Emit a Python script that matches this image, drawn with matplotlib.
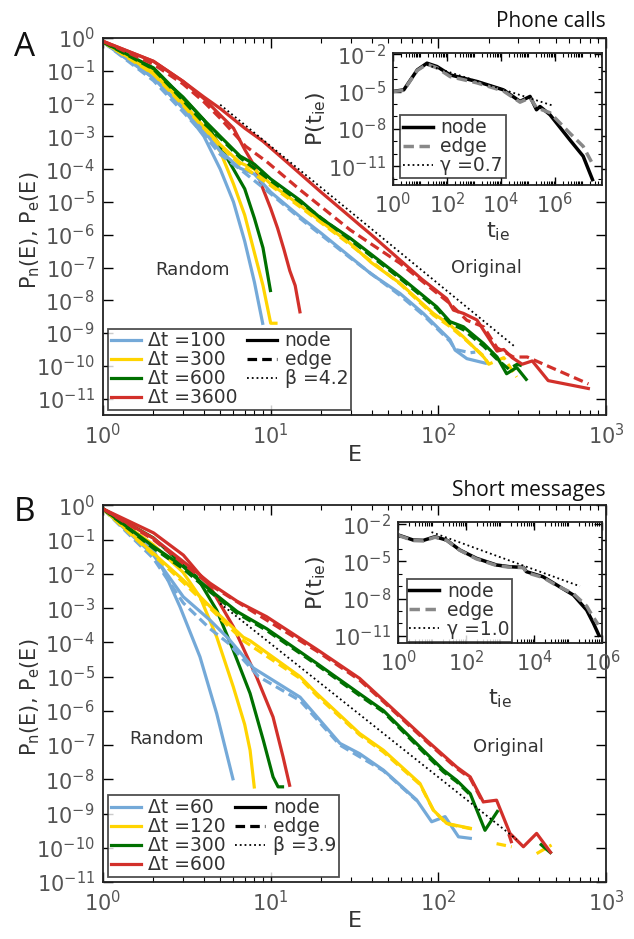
import numpy as np
import matplotlib
matplotlib.use('Agg')
import matplotlib.pyplot as plt
from matplotlib.ticker import FixedLocator, NullLocator, NullFormatter, LogFormatterSciNotation

# all curves stored as log10(E) and -log10(P)
# ---------------- panel A: phone calls ----------------
a_blue_rand_x = [0, 0.301, 0.477, 0.602, 0.699, 0.778, 0.845, 0.903, 0.954]
a_blue_rand_y = [0.12, 1.22, 2.15, 3.0, 4.0, 5.0, 6.2, 7.45, 8.75]
a_yell_rand_x = [0, 0.301, 0.477, 0.602, 0.699, 0.778, 0.845, 0.903, 0.954, 1.0, 1.041]
a_yell_rand_y = [0.12, 1.1, 1.95, 2.75, 3.46, 4.45, 5.4, 6.55, 7.55, 8.7, 8.7]
a_gree_rand_x = [0, 0.301, 0.477, 0.602, 0.699, 0.778, 0.845, 0.903, 0.954, 1.0]
a_gree_rand_y = [0.12, 1.0, 1.8, 2.5, 3.3, 4.0, 4.6, 5.5, 6.4, 7.75]
a_red_rand_x = [0, 0.301, 0.477, 0.602, 0.699, 0.778, 0.845, 0.903, 0.954, 1.0, 1.041, 1.079, 1.114, 1.146, 1.176]
a_red_rand_y = [0.1, 0.71, 1.32, 1.85, 2.35, 2.75, 3.4, 3.9, 4.6, 5.2, 5.8, 6.45, 7.1, 7.55, 8.4]

a_blue_node_x = [0, 0.301, 0.477, 0.602, 0.699, 0.817, 0.903, 1.0, 1.175, 1.3, 1.473, 1.6, 1.771, 1.91, 2.069, 2.1, 2.17, 2.29]
a_blue_node_y = [0.12, 1.22, 2.13, 2.85, 3.45, 3.97, 4.15, 4.7, 5.45, 5.95, 6.67, 7.2, 7.79, 8.4, 9.2, 9.52, 9.78, 9.93]
a_blue_edge_x = [0, 0.301, 0.477, 0.602, 0.699, 0.817, 1.0, 1.175, 1.473, 1.771, 1.91, 2.069, 2.1, 2.19, 2.22]
a_blue_edge_y = [0.12, 1.3, 2.25, 2.95, 3.55, 4.0, 4.75, 5.5, 6.7, 7.85, 8.45, 9.25, 9.5, 9.6, 9.58]
a_yell_node_x = [0, 0.301, 0.477, 0.602, 0.699, 0.817, 0.903, 1.0, 1.175, 1.3, 1.473, 1.6, 1.771, 1.97, 2.069, 2.15, 2.27, 2.30]
a_yell_node_y = [0.12, 1.05, 2.0, 2.7, 3.25, 3.8, 4.0, 4.45, 5.1, 5.6, 6.26, 6.85, 7.48, 8.4, 8.75, 9.12, 9.73, 9.93]
a_yell_edge_x = [0, 0.301, 0.477, 0.602, 0.699, 0.817, 1.0, 1.175, 1.473, 1.771, 1.97, 2.069, 2.15, 2.27, 2.30, 2.39, 2.467]
a_yell_edge_y = [0.12, 1.1, 2.05, 2.75, 3.3, 3.85, 4.5, 5.15, 6.3, 7.5, 8.45, 8.8, 9.15, 9.7, 9.95, 9.75, 10.34]
a_gree_node_x = [0, 0.301, 0.477, 0.602, 0.699, 0.817, 0.903, 1.0, 1.175, 1.3, 1.473, 1.6, 1.771, 1.99, 2.069, 2.15, 2.27, 2.35, 2.407, 2.467, 2.53]
a_gree_node_y = [0.12, 0.91, 1.83, 2.5, 3.0, 3.6, 3.85, 4.3, 4.95, 5.5, 6.1, 6.6, 7.28, 8.2, 8.65, 8.81, 9.32, 9.73, 10.24, 10.05, 10.45]
a_gree_edge_x = [0, 0.301, 0.477, 0.602, 0.699, 0.817, 1.0, 1.175, 1.473, 1.771, 1.99, 2.069, 2.15, 2.27, 2.35, 2.42, 2.47, 2.5]
a_gree_edge_y = [0.12, 0.95, 1.9, 2.6, 3.05, 3.65, 4.35, 5.0, 6.15, 7.33, 8.25, 8.7, 8.9, 9.4, 9.8, 10.1, 9.95, 10.0]
a_red_node_x = [0, 0.301, 0.477, 0.602, 0.699, 0.845, 0.954, 1.1, 1.3, 1.473, 1.53, 1.6, 1.771, 1.9, 2.05, 2.09, 2.15, 2.23, 2.35, 2.39, 2.44, 2.5, 2.56, 2.655, 2.904]
a_red_node_y = [0.1, 0.71, 1.32, 1.8, 2.15, 2.75, 3.15, 3.8, 4.7, 5.45, 5.7, 6.0, 6.77, 7.35, 7.95, 8.3, 8.4, 8.6, 9.55, 9.5, 9.75, 9.95, 9.85, 10.45, 10.7]
a_red_edge_x = [0, 0.301, 0.477, 0.602, 0.699, 0.85, 0.976, 1.175, 1.473, 1.771, 2.069, 2.17, 2.27, 2.35, 2.447, 2.53, 2.895]
a_red_edge_y = [0.1, 0.8, 1.4, 1.95, 2.45, 3.3, 3.77, 4.63, 5.85, 6.87, 8.1, 8.61, 8.81, 9.45, 9.73, 9.73, 10.55]

a_beta = 4.2
a_fit_E = [5.0, 286.0]
a_fit_c = 7.97

# inset A: log10(t_ie), -log10(P)
ia_node_x = [0, 0.4, 0.65, 0.9, 1.26, 1.63, 2.12, 3.11, 4.09, 4.71, 5.08, 5.32, 5.45, 5.82, 6.55, 7.05, 7.42]
ia_node_y = [4.99, 4.86, 4.06, 3.26, 2.72, 2.99, 3.66, 4.19, 4.86, 5.79, 5.39, 6.46, 6.2, 6.86, 8.86, 10.19, 12.2]
ia_edge_x = [0, 0.4, 0.65, 0.9, 1.26, 1.63, 2.12, 3.11, 4.09, 4.71, 5.08, 5.32, 5.82, 6.55, 7.05, 7.42]
ia_edge_y = [5.0, 4.9, 4.1, 3.3, 2.8, 3.1, 3.8, 4.3, 4.95, 5.85, 5.5, 6.3, 6.7, 8.33, 9.4, 10.9]
ia_gamma = 0.7
ia_fit_t = [18.0, 7.6e5]
ia_fit_c = 10 ** -1.98

# ---------------- panel B: short messages ----------------
b_blue_rand_x = [0, 0.15, 0.301, 0.378, 0.459, 0.578, 0.678, 0.777]
b_blue_rand_y = [0.1, 0.65, 1.3, 2.08, 2.96, 4.42, 6.08, 8.03]
b_yell_rand_x = [0, 0.301, 0.477, 0.578, 0.678, 0.777, 0.845, 0.877, 0.903]
b_yell_rand_y = [0.1, 1.15, 1.95, 2.67, 3.84, 5.3, 6.4, 7.15, 8.27]
b_gree_rand_x = [0, 0.301, 0.479, 0.558, 0.678, 0.777, 0.877, 0.956, 1.014, 1.044, 1.08]
b_gree_rand_y = [0.1, 0.95, 1.75, 2.08, 3.06, 4.23, 5.49, 6.86, 7.93, 8.22, 8.22]
b_red_rand_x = [0, 0.301, 0.479, 0.638, 0.777, 0.915, 1.014, 1.074, 1.115]
b_red_rand_y = [0.1, 0.8, 1.45, 2.37, 3.54, 5.0, 6.18, 7.35, 8.22]

b_blue_node_x = [0, 0.301, 0.378, 0.479, 0.638, 0.75, 0.897, 1.175, 1.413, 1.53, 1.672, 1.87, 1.96, 2.04, 2.12, 2.2]
b_blue_node_y = [0.1, 1.45, 1.98, 2.67, 3.35, 3.9, 4.75, 5.6, 6.95, 7.25, 7.73, 8.6, 9.24, 9.09, 9.68, 9.73]
b_blue_edge_x = [0, 0.301, 0.479, 0.638, 0.749, 0.928, 1.175, 1.413, 1.672, 1.87]
b_blue_edge_y = [0.1, 1.55, 2.85, 3.6, 4.03, 5.0, 5.7, 7.0, 7.75, 8.62]
b_yell_node_x = [0, 0.301, 0.479, 0.638, 0.837, 0.877, 1.175, 1.274, 1.53, 1.672, 1.89, 1.97, 2.05, 2.2]
b_yell_node_y = [0.1, 1.4, 2.18, 2.95, 3.85, 3.95, 5.0, 5.49, 6.66, 7.15, 8.12, 8.9, 9.29, 9.44]
b_yell_edge_x = [0, 0.301, 0.479, 0.638, 0.837, 1.175, 1.274, 1.53, 1.672, 1.89, 1.97, 2.05, 2.2]
b_yell_edge_y = [0.1, 1.45, 2.25, 3.0, 3.95, 5.05, 5.55, 6.7, 7.2, 8.15, 8.9, 9.3, 9.45]
b_yell_tail1_x = [2.347, 2.437]
b_yell_tail1_y = [9.88, 9.97]
b_yell_tail2_x = [2.586, 2.675]
b_yell_tail2_y = [10.17, 9.92]
b_gree_node_x = [0, 0.301, 0.479, 0.638, 0.8, 0.976, 1.274, 1.53, 1.672, 1.93, 2.03, 2.109, 2.19, 2.278, 2.357]
b_gree_node_y = [0.1, 1.2, 1.79, 2.47, 3.1, 3.6, 4.61, 5.5, 5.99, 7.25, 7.73, 8.03, 8.42, 9.49, 8.9]
b_gree_edge_x = [0, 0.301, 0.479, 0.638, 0.8, 0.976, 1.274, 1.53, 1.672, 1.93, 2.03, 2.109, 2.19]
b_gree_edge_y = [0.1, 1.25, 1.85, 2.52, 3.15, 3.65, 4.65, 5.55, 6.03, 7.3, 7.78, 8.07, 8.45]
b_gree_tail_x = [2.606, 2.675]
b_gree_tail_y = [9.88, 10.17]
b_red_node_x = [0, 0.301, 0.479, 0.578, 0.638, 0.8, 0.877, 0.976, 1.274, 1.53, 1.672, 1.93, 2.109, 2.19, 2.268, 2.347, 2.427, 2.507, 2.586, 2.675]
b_red_node_y = [0.1, 0.96, 1.64, 2.03, 2.27, 2.8, 3.0, 3.25, 4.2, 5.05, 5.69, 6.86, 7.64, 7.93, 8.66, 8.61, 9.58, 9.97, 9.58, 10.17]
b_red_edge_x = [0, 0.301, 0.479, 0.638, 0.877, 1.274, 1.53, 1.672, 1.93, 2.109, 2.19, 2.268]
b_red_edge_y = [0.1, 1.0, 1.7, 2.32, 3.05, 4.25, 5.1, 5.73, 6.9, 7.68, 7.97, 8.7]
b_red_tail_x = [2.42, 2.44]
b_red_tail_y = [9.6, 9.9]

b_beta = 3.9
b_fit_E = [5.0, 293.0]
b_fit_c = 0.728

# inset B
ib_node_x = [0, 0.44, 0.74, 1.08, 1.42, 1.81, 2.3, 2.89, 3.28, 3.68, 3.77, 4.26, 4.66, 5.15, 5.54, 5.74, 5.92]
ib_node_y = [2.87, 3.28, 3.3, 3.01, 3.28, 4.08, 4.75, 5.29, 5.43, 5.48, 5.83, 6.24, 6.9, 7.71, 8.92, 9.99, 11.07]
ib_edge_x = [0, 0.44, 0.74, 1.08, 1.42, 1.81, 2.3, 2.89, 3.28, 3.68, 3.77, 4.26, 4.66, 5.15, 5.54, 5.69, 5.88]
ib_edge_y = [2.9, 3.32, 3.35, 3.05, 3.3, 4.1, 4.8, 5.33, 5.47, 5.5, 5.9, 6.3, 6.95, 7.6, 8.6, 9.3, 10.1]
ib_gamma = 1.0
ib_fit_t = [9.5, 2.2e5]
ib_fit_c = 10 ** -1.66

col_blue = '#74a9d8'
col_yell = '#ffd400'
col_gree = '#007000'
col_red = '#d2302a'
txt_col = '#333333'
LW = 2.3
DASH = (0, (3, 1.6))
TICK_FS = 15
LEG_FS = 13.5

plt.rcParams['font.family'] = ['DejaVu Sans']
plt.rcParams['mathtext.default'] = 'regular'


def curve(ax, lx, ly, color, ls='-', lw=LW, label=None):
    ax.plot(10 ** np.array(lx), 10 ** (-np.array(ly)), color=color, ls=ls, lw=lw,
            label=label, solid_capstyle='butt', dash_capstyle='butt')


def style_main(ax, ylow):
    ax.set_xscale('log')
    ax.set_yscale('log')
    ax.set_xlim(1, 1000)
    ax.set_ylim(ylow, 1)
    ax.yaxis.set_major_locator(FixedLocator([10.0 ** k for k in range(-11, 1)]))
    ax.yaxis.set_minor_locator(NullLocator())
    ax.yaxis.set_major_formatter(LogFormatterSciNotation())
    ax.tick_params(which='both', direction='in', top=True, right=True,
                   labelsize=TICK_FS, labelcolor='#555555', pad=6)
    ax.tick_params(which='major', length=7, width=1)
    ax.tick_params(which='minor', length=3.5, width=0.8)
    for s in ax.spines.values():
        s.set_linewidth(1.3)
        s.set_color('#222222')


def style_inset(ax, xhi, ylow, yhi):
    ax.set_xscale('log')
    ax.set_yscale('log')
    ax.set_xlim(1, xhi)
    ax.set_ylim(ylow, yhi)
    ax.xaxis.set_major_locator(FixedLocator([1, 1e2, 1e4, 1e6]))
    ax.xaxis.set_minor_locator(FixedLocator([m * 10.0 ** k for k in range(0, 8) for m in range(1, 10)]))
    ax.xaxis.set_minor_formatter(NullFormatter())
    ax.yaxis.set_major_locator(FixedLocator([1e-2, 1e-5, 1e-8, 1e-11]))
    ax.yaxis.set_minor_locator(FixedLocator([10.0 ** k for k in range(-13, 0)]))
    ax.yaxis.set_minor_formatter(NullFormatter())
    ax.xaxis.set_major_formatter(LogFormatterSciNotation())
    ax.yaxis.set_major_formatter(LogFormatterSciNotation())
    ax.tick_params(which='both', direction='in', top=True, right=True,
                   labelsize=TICK_FS, labelcolor='#555555', pad=5)
    ax.tick_params(which='major', length=6, width=1)
    ax.tick_params(which='minor', length=3, width=0.8)
    for s in ax.spines.values():
        s.set_linewidth(1.3)
        s.set_color('#222222')


def make_legend(ax, handles, labels, anchor, ncol):
    leg = ax.legend(handles, labels, loc='lower left', bbox_to_anchor=anchor, ncol=ncol,
                    fontsize=LEG_FS, frameon=True, fancybox=False, edgecolor='#222222',
                    handlelength=1.6, handletextpad=0.4, columnspacing=0.5,
                    labelspacing=0.0, borderpad=0.15, borderaxespad=0)
    leg.get_frame().set_linewidth(1.3)
    for t in leg.get_texts():
        t.set_color(txt_col)
    return leg


fig = plt.figure(figsize=(6.34, 9.39), dpi=100)
axA = fig.add_axes([0.1625, 0.558, 0.7934, 0.4015])
axB = fig.add_axes([0.1625, 0.0607, 0.7934, 0.401])
insA = fig.add_axes([0.6199, 0.803, 0.3297, 0.1406])
insB = fig.add_axes([0.6282, 0.3149, 0.3218, 0.1295])

hA = [plt.Line2D([], [], color=c, lw=LW) for c in (col_blue, col_yell, col_gree, col_red)]
hA += [plt.Line2D([], [], color='black', lw=LW),
       plt.Line2D([], [], color='black', lw=LW, ls=DASH),
       plt.Line2D([], [], color='black', lw=1.3, ls=':')]
hI = [plt.Line2D([], [], color='black', lw=2.5),
      plt.Line2D([], [], color='#888888', lw=2.5, ls=DASH),
      plt.Line2D([], [], color='black', lw=1.3, ls=':')]

# ---- panel A
curve(axA, a_blue_rand_x, a_blue_rand_y, col_blue)
curve(axA, a_yell_rand_x, a_yell_rand_y, col_yell)
curve(axA, a_gree_rand_x, a_gree_rand_y, col_gree)
curve(axA, a_red_rand_x, a_red_rand_y, col_red)
curve(axA, a_blue_node_x, a_blue_node_y, col_blue)
curve(axA, a_blue_edge_x, a_blue_edge_y, col_blue, DASH)
curve(axA, a_yell_node_x, a_yell_node_y, col_yell)
curve(axA, a_yell_edge_x, a_yell_edge_y, col_yell, DASH)
curve(axA, a_gree_node_x, a_gree_node_y, col_gree)
curve(axA, a_gree_edge_x, a_gree_edge_y, col_gree, DASH)
curve(axA, a_red_node_x, a_red_node_y, col_red)
curve(axA, a_red_edge_x, a_red_edge_y, col_red, DASH)
fitE = np.array(a_fit_E)
axA.plot(fitE, a_fit_c * fitE ** -a_beta, color='black', ls=':', lw=1.3)

style_main(axA, 10 ** -11.5)
axA.set_xlabel('E', fontsize=16, color=txt_col)
axA.set_ylabel('P$_\\mathrm{n}$(E), P$_\\mathrm{e}$(E)', fontsize=15, color=txt_col)
axA.xaxis.set_label_coords(0.5, -0.08)
axA.yaxis.set_label_coords(-0.122, 0.49)
axA.text(0.177, 0.385, 'Random', transform=axA.transAxes, ha='center', va='center', fontsize=13, color=txt_col)
axA.text(0.763, 0.39, 'Original', transform=axA.transAxes, ha='center', va='center', fontsize=13, color=txt_col)
make_legend(axA, hA, ['Δt =100', 'Δt =300', 'Δt =600', 'Δt =3600', 'node', 'edge', 'β =4.2'],
            (0.01, 0.013), 2)

# inset A
curve(insA, ia_node_x, ia_node_y, 'black', lw=2.5)
curve(insA, ia_edge_x, ia_edge_y, '#888888', DASH, lw=2.5)
ft = np.array(ia_fit_t)
insA.plot(ft, ia_fit_c * ft ** -ia_gamma, color='black', ls=':', lw=1.3)
style_inset(insA, 10 ** 7.75, 10 ** -12.5, 10 ** -1.9)
insA.set_xlabel('t$_\\mathrm{ie}$', fontsize=16, color=txt_col)
insA.set_ylabel('P(t$_\\mathrm{ie}$)', fontsize=16, color=txt_col)
insA.xaxis.set_label_coords(0.5, -0.265)
insA.yaxis.set_label_coords(-0.31, 0.5)
make_legend(insA, hI, ['node', 'edge', 'γ =0.7'], (0.033, 0.053), 1)

# ---- panel B
curve(axB, b_blue_rand_x, b_blue_rand_y, col_blue)
curve(axB, b_yell_rand_x, b_yell_rand_y, col_yell)
curve(axB, b_gree_rand_x, b_gree_rand_y, col_gree)
curve(axB, b_red_rand_x, b_red_rand_y, col_red)
curve(axB, b_blue_node_x, b_blue_node_y, col_blue)
curve(axB, b_blue_edge_x, b_blue_edge_y, col_blue, DASH)
curve(axB, b_yell_node_x, b_yell_node_y, col_yell)
curve(axB, b_yell_edge_x, b_yell_edge_y, col_yell, DASH)
curve(axB, b_yell_tail1_x, b_yell_tail1_y, col_yell, DASH)
curve(axB, b_yell_tail2_x, b_yell_tail2_y, col_yell, DASH)
curve(axB, b_gree_node_x, b_gree_node_y, col_gree)
curve(axB, b_gree_edge_x, b_gree_edge_y, col_gree, DASH)
curve(axB, b_gree_tail_x, b_gree_tail_y, col_gree)
curve(axB, b_red_node_x, b_red_node_y, col_red)
curve(axB, b_red_edge_x, b_red_edge_y, col_red, DASH)
curve(axB, b_red_tail_x, b_red_tail_y, col_red, DASH)
fitE = np.array(b_fit_E)
axB.plot(fitE, b_fit_c * fitE ** -b_beta, color='black', ls=':', lw=1.3)

style_main(axB, 1e-11)
axB.set_xlabel('E', fontsize=16, color=txt_col)
axB.set_ylabel('P$_\\mathrm{n}$(E), P$_\\mathrm{e}$(E)', fontsize=15, color=txt_col)
axB.xaxis.set_label_coords(0.5, -0.077)
axB.yaxis.set_label_coords(-0.122, 0.49)
axB.text(0.127, 0.38, 'Random', transform=axB.transAxes, ha='center', va='center', fontsize=13, color=txt_col)
axB.text(0.805, 0.359, 'Original', transform=axB.transAxes, ha='center', va='center', fontsize=13, color=txt_col)
make_legend(axB, hA, ['Δt =60', 'Δt =120', 'Δt =300', 'Δt =600', 'node', 'edge', 'β =3.9'],
            (0.01, 0.013), 2)

# inset B
curve(insB, ib_node_x, ib_node_y, 'black', lw=2.5)
curve(insB, ib_edge_x, ib_edge_y, '#888888', DASH, lw=2.5)
ft = np.array(ib_fit_t)
insB.plot(ft, ib_fit_c * ft ** -ib_gamma, color='black', ls=':', lw=1.3)
style_inset(insB, 1e6, 10 ** -11.6, 10 ** -1.8)
insB.set_xlabel('t$_\\mathrm{ie}$', fontsize=16, color=txt_col)
insB.set_ylabel('P(t$_\\mathrm{ie}$)', fontsize=16, color=txt_col)
insB.xaxis.set_label_coords(0.5, -0.36)
insB.yaxis.set_label_coords(-0.345, 0.5)
make_legend(insB, hI, ['node', 'edge', 'γ =1.0'], (0.041, 0.013), 1)

fig.text(0.956, 0.9766, 'Phone calls', ha='right', va='center', fontsize=15, color='#111111',
         family=['Open Sans', 'DejaVu Sans'])
fig.text(0.956, 0.478, 'Short messages', ha='right', va='center', fontsize=15, color='#111111',
         family=['Open Sans', 'DejaVu Sans'])
fig.text(0.039, 0.949, 'A', ha='center', va='center', fontsize=24, color='#111111',
         family=['Open Sans', 'DejaVu Sans'])
fig.text(0.039, 0.4537, 'B', ha='center', va='center', fontsize=24, color='#111111',
         family=['Open Sans', 'DejaVu Sans'])

fig.savefig('out.png', dpi=100)
